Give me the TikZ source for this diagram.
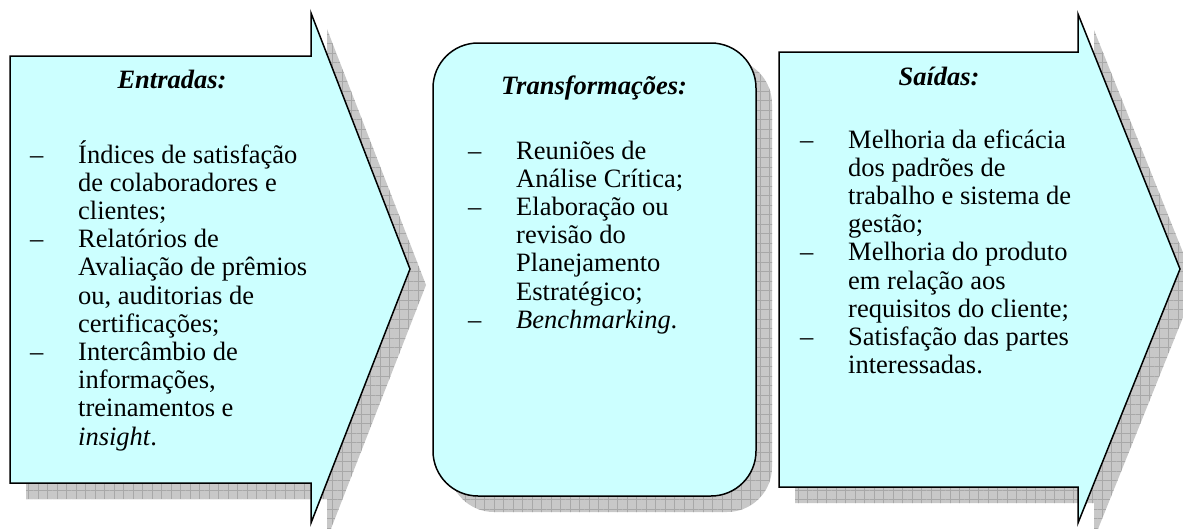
\documentclass[tikz,border=0pt]{standalone}
\usepackage{fontspec}
\setmainfont{Liberation Serif}
\usetikzlibrary{patterns.meta}
\definecolor{boxfill}{HTML}{CCFFFF}
\definecolor{shadowfill}{HTML}{C8C8C8}
\definecolor{shadowgridcol}{HTML}{A8A8A8}
\newcommand\itemdash{\makebox[48pt][l]{–}}
\newcommand\itemgap{\hspace*{48pt}}
\tikzset{
  boxshape/.style={fill=boxfill, draw=black, line width=1.5pt, line join=miter},
  shadowshape/.style={fill=shadowfill},
  shadowgrid/.style={pattern={Hatch[distance=9.5pt,angle=0,line width=0.45pt]}, pattern color=shadowgridcol},
  titletext/.style={font=\fontsize{26.5}{28.2}\selectfont\bfseries\itshape, anchor=base, inner sep=0pt},
  listtext/.style={font=\fontsize{26.5}{28.2}\selectfont, anchor=base west, inner sep=0pt},
}
\begin{document}
\begin{tikzpicture}[x=1pt,y=-1pt]
\useasboundingbox (0,0) rectangle (1183,528);
% ---------- shadows ----------
\begin{scope}[shift={(16,16)}]
  \fill[shadowshape] (10,56) -- (311,56) -- (311,13) -- (410,269) -- (311,523) -- (311,483) -- (10,483) -- cycle;
  \fill[shadowgrid] (10,56) -- (311,56) -- (311,13) -- (410,269) -- (311,523) -- (311,483) -- (10,483) -- cycle;
  \fill[shadowshape, rounded corners=45pt] (433,43) rectangle (756,496);
  \fill[shadowgrid, rounded corners=45pt] (433,43) rectangle (756,496);
  \fill[shadowshape] (779,52) -- (1078,52) -- (1078,14) -- (1180,269) -- (1078,523) -- (1078,487) -- (779,487) -- cycle;
  \fill[shadowgrid] (779,52) -- (1078,52) -- (1078,14) -- (1180,269) -- (1078,523) -- (1078,487) -- (779,487) -- cycle;
\end{scope}
% ---------- shapes ----------
\draw[boxshape] (10,56) -- (311,56) -- (311,13) -- (410,269) -- (311,523) -- (311,483) -- (10,483) -- cycle;
\draw[boxshape, rounded corners=45pt] (433,43) rectangle (756,496);
\draw[boxshape] (779,52) -- (1078,52) -- (1078,14) -- (1180,269) -- (1078,523) -- (1078,487) -- (779,487) -- cycle;
% ---------- texts ----------
\node[titletext] (intitle) at (172,88) {Entradas:};
\node[listtext] (inlist) at (30,163) {\begin{tabular}[t]{@{}l@{}}
\itemdash Índices de satisfação\\
\itemgap de colaboradores e\\
\itemgap clientes;\\
\itemdash Relatórios de\\
\itemgap Avaliação de prêmios\\
\itemgap ou, auditorias de\\
\itemgap certificações;\\
\itemdash Intercâmbio de\\
\itemgap informações,\\
\itemgap treinamentos e\\
\itemgap \textit{insight}.
\end{tabular}};
\node[titletext] (trtitle) at (594,94) {Transformações:};
\node[listtext] (trlist) at (468,159) {\begin{tabular}[t]{@{}l@{}}
\itemdash Reuniões de\\
\itemgap Análise Crítica;\\
\itemdash Elaboração ou\\
\itemgap revisão do\\
\itemgap Planejamento\\
\itemgap Estratégico;\\
\itemdash \textit{Benchmarking}.
\end{tabular}};
\node[titletext] (outtitle) at (939,85) {Saídas:};
\node[listtext] (outlist) at (800,148) {\begin{tabular}[t]{@{}l@{}}
\itemdash Melhoria da eficácia\\
\itemgap dos padrões de\\
\itemgap trabalho e sistema de\\
\itemgap gestão;\\
\itemdash Melhoria do produto\\
\itemgap em relação aos\\
\itemgap requisitos do cliente;\\
\itemdash Satisfação das partes\\
\itemgap interessadas.
\end{tabular}};
\end{tikzpicture}
\end{document}
